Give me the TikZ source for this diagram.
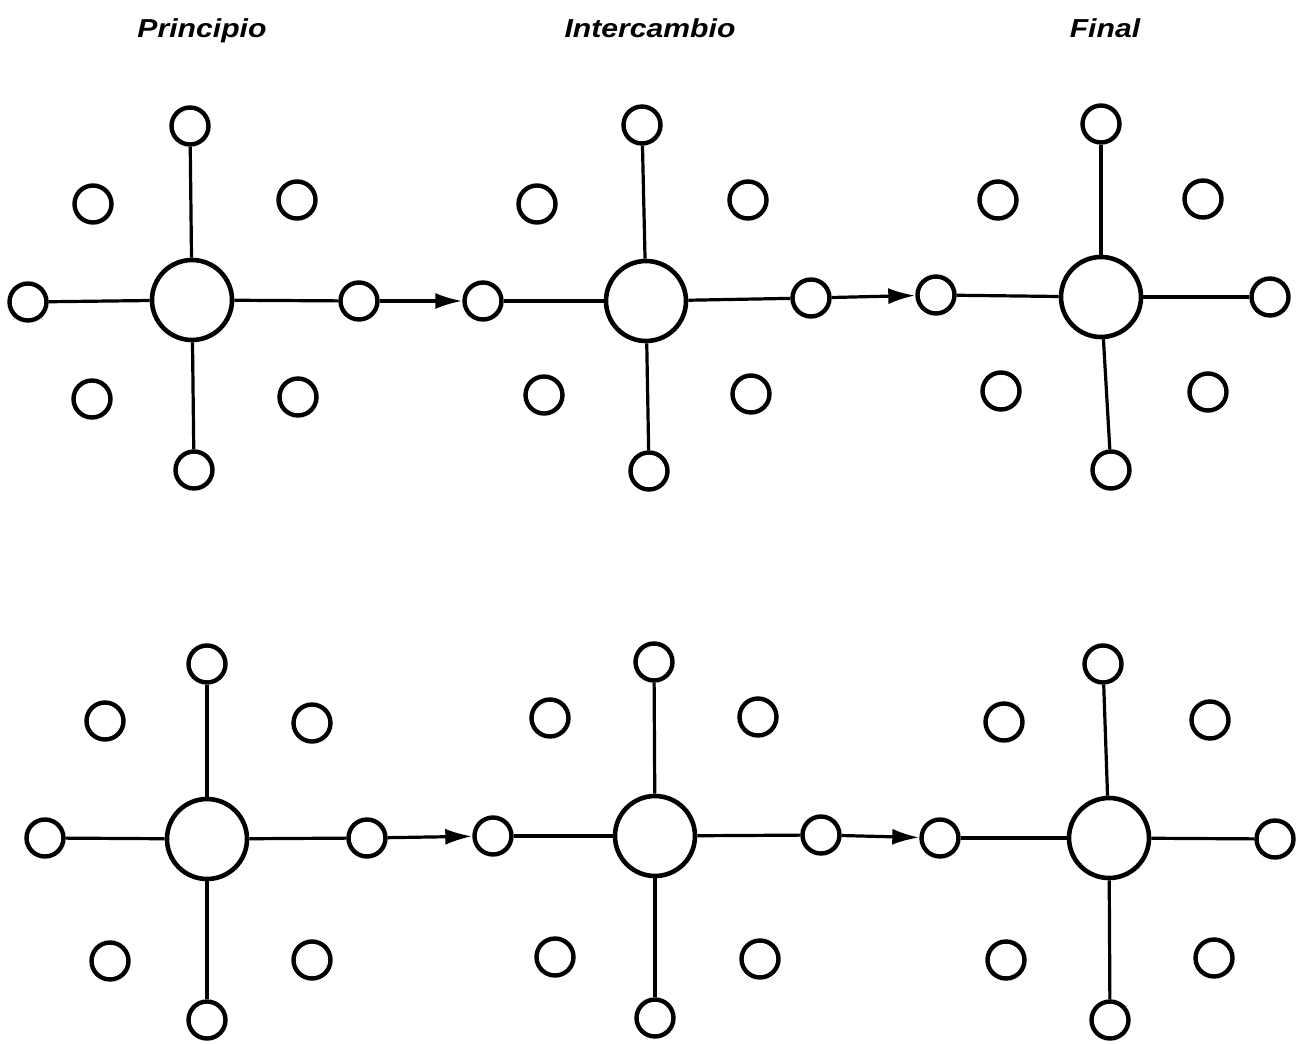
\documentclass[tikz,border=0pt]{standalone}
\usepackage{fontspec}
\setmainfont{Liberation Sans}
\usetikzlibrary{arrows.meta}
\begin{document}
\begin{tikzpicture}[x=1pt,y=-1pt,
  small/.style={circle,draw,line width=4.4pt,minimum size=37pt,inner sep=0pt},
  big/.style={circle,draw,line width=4.6pt,minimum size=80pt,inner sep=0pt},
  spoke/.style={line width=3.2pt},
  flow/.style={line width=3.2pt,-{Latex[length=27pt,width=16pt]}},
  title/.style={anchor=base,font=\fontsize{26}{30}\selectfont\bfseries\itshape,inner sep=0pt}]
\useasboundingbox (0,0) rectangle (1302,1044);
% titles
\node[title] (t1) at (202,37) {\scalebox{1.16}[1]{Principio}};
\node[title] (t2) at (650,37) {\scalebox{1.16}[1]{Intercambio}};
\node[title] (t3) at (1105,37) {\scalebox{1.16}[1]{Final}};
% row 1, panel a
\node[big]   (r1a-c)  at (192,300) {};
\node[small] (r1a-n)  at (190,126) {};
\node[small] (r1a-s)  at (194,470) {};
\node[small] (r1a-w)  at (28,302) {};
\node[small] (r1a-e)  at (359,301) {};
\node[small] (r1a-nw) at (93,204) {};
\node[small] (r1a-ne) at (297,200) {};
\node[small] (r1a-sw) at (92,399) {};
\node[small] (r1a-se) at (298,397) {};
% row 1, panel b
\node[big]   (r1b-c)  at (646,301) {};
\node[small] (r1b-n)  at (642,125) {};
\node[small] (r1b-s)  at (649,471) {};
\node[small] (r1b-w)  at (483,301) {};
\node[small] (r1b-e)  at (811,298) {};
\node[small] (r1b-nw) at (537,204) {};
\node[small] (r1b-ne) at (748,200) {};
\node[small] (r1b-sw) at (544,395) {};
\node[small] (r1b-se) at (751,394) {};
% row 1, panel c
\node[big]   (r1c-c)  at (1101,297) {};
\node[small] (r1c-n)  at (1101,124) {};
\node[small] (r1c-s)  at (1111,470) {};
\node[small] (r1c-w)  at (936,295) {};
\node[small] (r1c-e)  at (1270,297) {};
\node[small] (r1c-nw) at (998,200) {};
\node[small] (r1c-ne) at (1203,199) {};
\node[small] (r1c-sw) at (1001,391) {};
\node[small] (r1c-se) at (1208,392) {};
% row 2, panel a
\node[big]   (r2a-c)  at (207,839) {};
\node[small] (r2a-n)  at (207,664) {};
\node[small] (r2a-s)  at (207,1020) {};
\node[small] (r2a-w)  at (45,838) {};
\node[small] (r2a-e)  at (367,838) {};
\node[small] (r2a-nw) at (105,721) {};
\node[small] (r2a-ne) at (312,723) {};
\node[small] (r2a-sw) at (110,961) {};
\node[small] (r2a-se) at (312,960) {};
% row 2, panel b
\node[big]   (r2b-c)  at (655,836) {};
\node[small] (r2b-n)  at (654,662) {};
\node[small] (r2b-s)  at (655,1018) {};
\node[small] (r2b-w)  at (493,836) {};
\node[small] (r2b-e)  at (821,835) {};
\node[small] (r2b-nw) at (550,718) {};
\node[small] (r2b-ne) at (758,717) {};
\node[small] (r2b-sw) at (555,957) {};
\node[small] (r2b-se) at (760,959) {};
% row 2, panel c
\node[big]   (r2c-c)  at (1109,838) {};
\node[small] (r2c-n)  at (1103,664) {};
\node[small] (r2c-s)  at (1110,1020) {};
\node[small] (r2c-w)  at (940,838) {};
\node[small] (r2c-e)  at (1275,839) {};
\node[small] (r2c-nw) at (1004,722) {};
\node[small] (r2c-ne) at (1210,720) {};
\node[small] (r2c-sw) at (1006,960) {};
\node[small] (r2c-se) at (1214,958) {};
% spokes
\foreach \p in {r1a,r1b,r1c,r2a,r2b,r2c}
  \foreach \d in {n,s,e,w}
    \draw[spoke] (\p-c) -- (\p-\d);
% arrows
\draw[flow] (r1a-e) -- (r1b-w);
\draw[flow] (r1b-e) -- (r1c-w);
\draw[flow] (r2a-e) -- (r2b-w);
\draw[flow] (r2b-e) -- (r2c-w);
\end{tikzpicture}
\end{document}
